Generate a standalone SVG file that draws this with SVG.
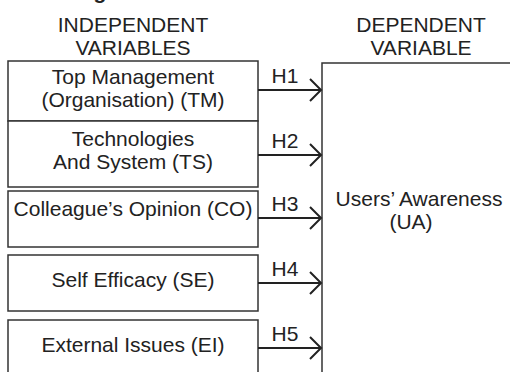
<svg xmlns="http://www.w3.org/2000/svg" width="510" height="372" viewBox="0 0 510 372">
<style>
text{font-family:"Liberation Sans",Arial,sans-serif;font-size:21px;fill:#222;text-anchor:middle}
.box{fill:#fff;stroke:#333;stroke-width:1.5}
.conn{stroke:#222;stroke-width:2;fill:none}
.head{stroke:#222;stroke-width:2;fill:none;stroke-linecap:butt}
</style>
<rect width="510" height="372" fill="#fff"/>
<text x="100" y="-1" style="font-weight:bold">g</text>
<text x="133" y="32">INDEPENDENT</text>
<text x="133" y="55">VARIABLES</text>
<text x="421" y="32">DEPENDENT</text>
<text x="421" y="55">VARIABLE</text>
<g id="TM"><rect class="box" x="8" y="61" width="250" height="60"/><text x="133" y="84">Top Management</text><text x="133" y="107">(Organisation) (TM)</text></g>
<g id="TS"><rect class="box" x="8" y="121" width="250" height="66"/><text x="133" y="146">Technologies</text><text x="133" y="169">And System (TS)</text></g>
<g id="CO"><rect class="box" x="8" y="191" width="250" height="56"/><text x="133" y="216">Colleague’s Opinion (CO)</text></g>
<g id="SE"><rect class="box" x="8" y="255" width="250" height="56"/><text x="133" y="287">Self Efficacy (SE)</text></g>
<g id="EI"><rect class="box" x="8" y="320" width="250" height="70"/><text x="133" y="352">External Issues (EI)</text></g>
<g id="UA"><path class="box" d="M322 390V63H520"/><text x="419" y="206">Users’ Awareness</text><text x="411" y="229">(UA)</text></g>
<g id="connectors">
<path class="conn" d="M258 90H321M310 79L321 90L310 101"/>
<text x="285" y="83">H1</text>
<path class="conn" d="M258 155H321M310 144L321 155L310 166"/>
<text x="285" y="148">H2</text>
<path class="conn" d="M258 218H321M310 207L321 218L310 229"/>
<text x="285" y="211">H3</text>
<path class="conn" d="M258 283H321M310 272L321 283L310 294"/>
<text x="285" y="276">H4</text>
<path class="conn" d="M258 348H321M310 337L321 348L310 359"/>
<text x="285" y="341">H5</text>
</g>
</svg>
